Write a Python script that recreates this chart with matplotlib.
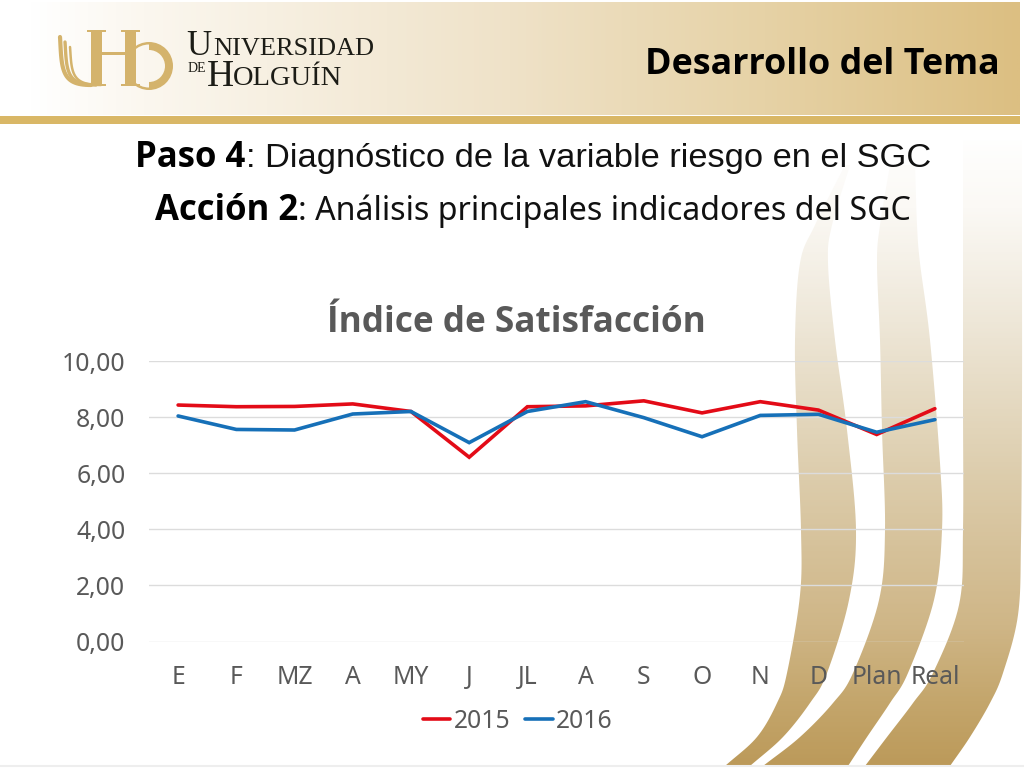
import numpy as np
import matplotlib
matplotlib.use("Agg")
import matplotlib.pyplot as plt
from matplotlib.colors import LinearSegmentedColormap
from matplotlib.patches import Polygon, Rectangle, Wedge

months = ["E", "F", "MZ", "A", "MY", "J", "JL", "A", "S", "O", "N", "D", "Plan", "Real"]
y2015 = [8.43, 8.37, 8.38, 8.47, 8.20, 6.57, 8.37, 8.40, 8.58, 8.15, 8.55, 8.25, 7.38, 8.30]
y2016 = [8.04, 7.56, 7.54, 8.11, 8.20, 7.09, 8.20, 8.55, 7.98, 7.30, 8.06, 8.10, 7.46, 7.91]
yticks = [0, 2, 4, 6, 8, 10]
ylabels = ["0,00", "2,00", "4,00", "6,00", "8,00", "10,00"]

GRAY = "#595959"
BOLD = "Open Sans"
W, H = 1024, 768


def smooth(pts):
    # catmull-rom curve through hand read outline points
    p = np.array(pts, dtype=float)
    p = np.vstack([2 * p[0] - p[1], p, 2 * p[-1] - p[-2]])
    out = []
    for i in range(1, len(p) - 2):
        for t in np.linspace(0, 1, 12, endpoint=False):
            out.append(0.5 * (2 * p[i] + (p[i + 1] - p[i - 1]) * t
                              + (2 * p[i - 1] - 5 * p[i] + 4 * p[i + 1] - p[i + 2]) * t ** 2
                              + (3 * p[i] - p[i - 1] - 3 * p[i + 1] + p[i + 2]) * t ** 3))
    out.append(p[-2])
    return np.array(out)


def ribbon(ax, left, right, cmap):
    outline = np.vstack([smooth(left), smooth(right)[::-1]])
    patch = Polygon(outline, closed=True, fc="none", ec="none")
    ax.add_patch(patch)
    grad = np.linspace(0, 1, 400).reshape(-1, 1)
    im = ax.imshow(grad, extent=(700, 1024, 766, 130), cmap=cmap, aspect="auto", zorder=1)
    im.set_clip_path(patch)


fig = plt.figure(figsize=(10.24, 7.68), dpi=100, facecolor="white")

# slide background, in pixel coordinates
bg = fig.add_axes([0, 0, 1, 1])
bg.set_axis_off()

header = LinearSegmentedColormap.from_list(
    "header", [(0, "#ffffff"), (0.03, "#ffffff"), (0.14, "#fbf7ef"), (0.5, "#efe2c8"), (0.75, "#e6d2a6"), (1, "#dcbf82")])
bg.imshow(np.linspace(0, 1, 512).reshape(1, -1), extent=(0, 1020, 115, 2), cmap=header, aspect="auto", zorder=0)
bg.add_patch(Rectangle((0, 116), 1020, 8, fc="#d9b766", ec="none", zorder=1))

ribbon_cmap = LinearSegmentedColormap.from_list(
    "ribbon", [(0, "#ffffff"), (0.12, "#fbf9f5"), (0.3, "#eee7d8"), (0.55, "#dcccab"), (0.78, "#cfb687"), (0.9, "#c4a66c"), (1, "#bc9a5a")])
ribbon(bg,
       [(845, 165), (815, 225), (800, 263), (795, 340), (797, 430), (801, 530), (800, 595), (787, 673), (777, 703), (757, 737), (725, 766)],
       [(850, 165), (832, 225), (828, 263), (835, 340), (847, 430), (856, 530), (849, 600), (827, 673), (810, 703), (783, 737), (750, 766)],
       ribbon_cmap)
ribbon(bg,
       [(890, 165), (880, 225), (877, 263), (880, 340), (882, 430), (885, 530), (879, 600), (853, 673), (833, 703), (800, 737), (763, 766)],
       [(915, 165), (917, 225), (920, 263), (930, 340), (940, 463), (942, 530), (934, 600), (908, 673), (890, 703), (867, 737), (848, 766)],
       ribbon_cmap)
ribbon(bg,
       [(963, 140), (963, 260), (963, 400), (963, 530), (959, 605), (933, 673), (913, 703), (887, 737), (865, 766)],
       [(1022, 140), (1022, 260), (1022, 400), (1021, 540), (1018, 615), (1003, 673), (990, 703), (970, 737), (950, 766)],
       ribbon_cmap)
bg.plot([0, 1024], [766, 766], color="#eeeeee", lw=1.5, zorder=2)

# logo mark
GOLD = "#d4b36c"
for x0 in (89, 123):
    bg.add_patch(Rectangle((x0 + 2, 31), 11, 55, fc=GOLD, ec="none", zorder=3))
    bg.add_patch(Rectangle((x0 - 2, 30), 19, 2, fc=GOLD, ec="none", zorder=3))
    bg.add_patch(Rectangle((x0 - 2, 84), 19, 2, fc=GOLD, ec="none", zorder=3))
bg.add_patch(Rectangle((100, 52), 28, 3, fc=GOLD, ec="none", zorder=3))
bg.add_patch(Wedge((149, 66), 24, -90, 90, width=8, fc=GOLD, ec="none", zorder=3))
bg.add_patch(Wedge((149, 66), 24, 90, 270, width=2.5, fc=GOLD, ec="none", zorder=3))
t = np.linspace(0, 1, 40)
for x_start, top, w in ((60, 37, 3.0), (65, 42, 2.4), (70, 47, 1.8)):
    xs = x_start + 3 * t + 28 * t ** 4
    ys = top + (85 - top) * np.sin(t * np.pi / 2) ** 1.2
    bg.plot(xs, ys, color=GOLD, lw=w, solid_capstyle="round", zorder=3)
INK = "#1c1c16"
bg.text(186, 55, "U", family="Liberation Serif", fontsize=25, color=INK, va="baseline", zorder=3)
bg.text(213, 55, "NIVERSIDAD", family="Liberation Serif", fontsize=19, color=INK, va="baseline", zorder=3)
bg.text(188, 72, "DE", family="Liberation Serif", fontsize=10, color=INK, va="baseline", zorder=3)
bg.text(207, 86, "H", family="Liberation Serif", fontsize=27, color=INK, va="baseline", zorder=3)
bg.text(233, 85, "OLGUÍN", family="Liberation Serif", fontsize=20.5, color=INK, va="baseline", zorder=3)

# slide headings
bg.text(1000, 65, "Desarrollo del Tema", family=BOLD, weight="bold", fontsize=25.8, color="black", ha="right", va="center", zorder=3)
bg.text(135, 158, "Paso 4", family=BOLD, weight="bold", fontsize=25, color="black", va="center", zorder=3)
bg.text(246, 159, ": Diagnóstico de la variable riesgo en el SGC", family="Liberation Sans", fontsize=24.75, color="#111111", va="center", zorder=3)
bg.text(155, 211, "Acción 2", family=BOLD, weight="bold", fontsize=25, color="black", va="center", zorder=3)
bg.text(298, 211, ": Análisis principales indicadores del SGC", family="Noto Sans", fontsize=23.15, color="#111111", va="center", zorder=3)
bg.set_xlim(0, W)
bg.set_ylim(H, 0)

# the chart itself
ax = fig.add_axes([149 / W, 1 - 641.5 / H, 815 / W, 280.5 / H])
ax.patch.set_alpha(0)
x = np.arange(len(months))
ax.plot(x, y2015, color="#e30b17", lw=2.6, label="2015", solid_capstyle="round", solid_joinstyle="miter")
ax.plot(x, y2016, color="#1670b8", lw=2.6, label="2016", solid_capstyle="round", solid_joinstyle="miter")
ax.set_xlim(-0.5, len(months) - 0.5)
ax.set_ylim(0, 10)
ax.set_xticks(x)
ax.set_xticklabels(months)
ax.set_yticks(yticks)
ax.set_yticklabels(ylabels)
ax.tick_params(length=0, labelsize=17.8, labelcolor=GRAY, labelfontfamily="Noto Sans")
ax.tick_params(axis="x", pad=17)
ax.tick_params(axis="y", pad=17)
ax.grid(axis="y", color="#dcdcdc", lw=1.0)
ax.set_axisbelow(True)
for s in ax.spines.values():
    s.set_visible(False)
ax.set_title("Índice de Satisfacción", family=BOLD, weight="bold", fontsize=25.3, color=GRAY, x=(516.5 - 149) / 815, y=1.0, pad=21)
leg = ax.legend(loc="center", bbox_to_anchor=((518 - 149) / 815, (641.5 - 721) / 280.5), ncol=2, frameon=False,
                prop={"family": "Noto Sans", "size": 17.8}, labelcolor=GRAY,
                handlelength=1.1, handletextpad=0.15, columnspacing=0.6)

fig.savefig("out.png", dpi=100, facecolor="white")
